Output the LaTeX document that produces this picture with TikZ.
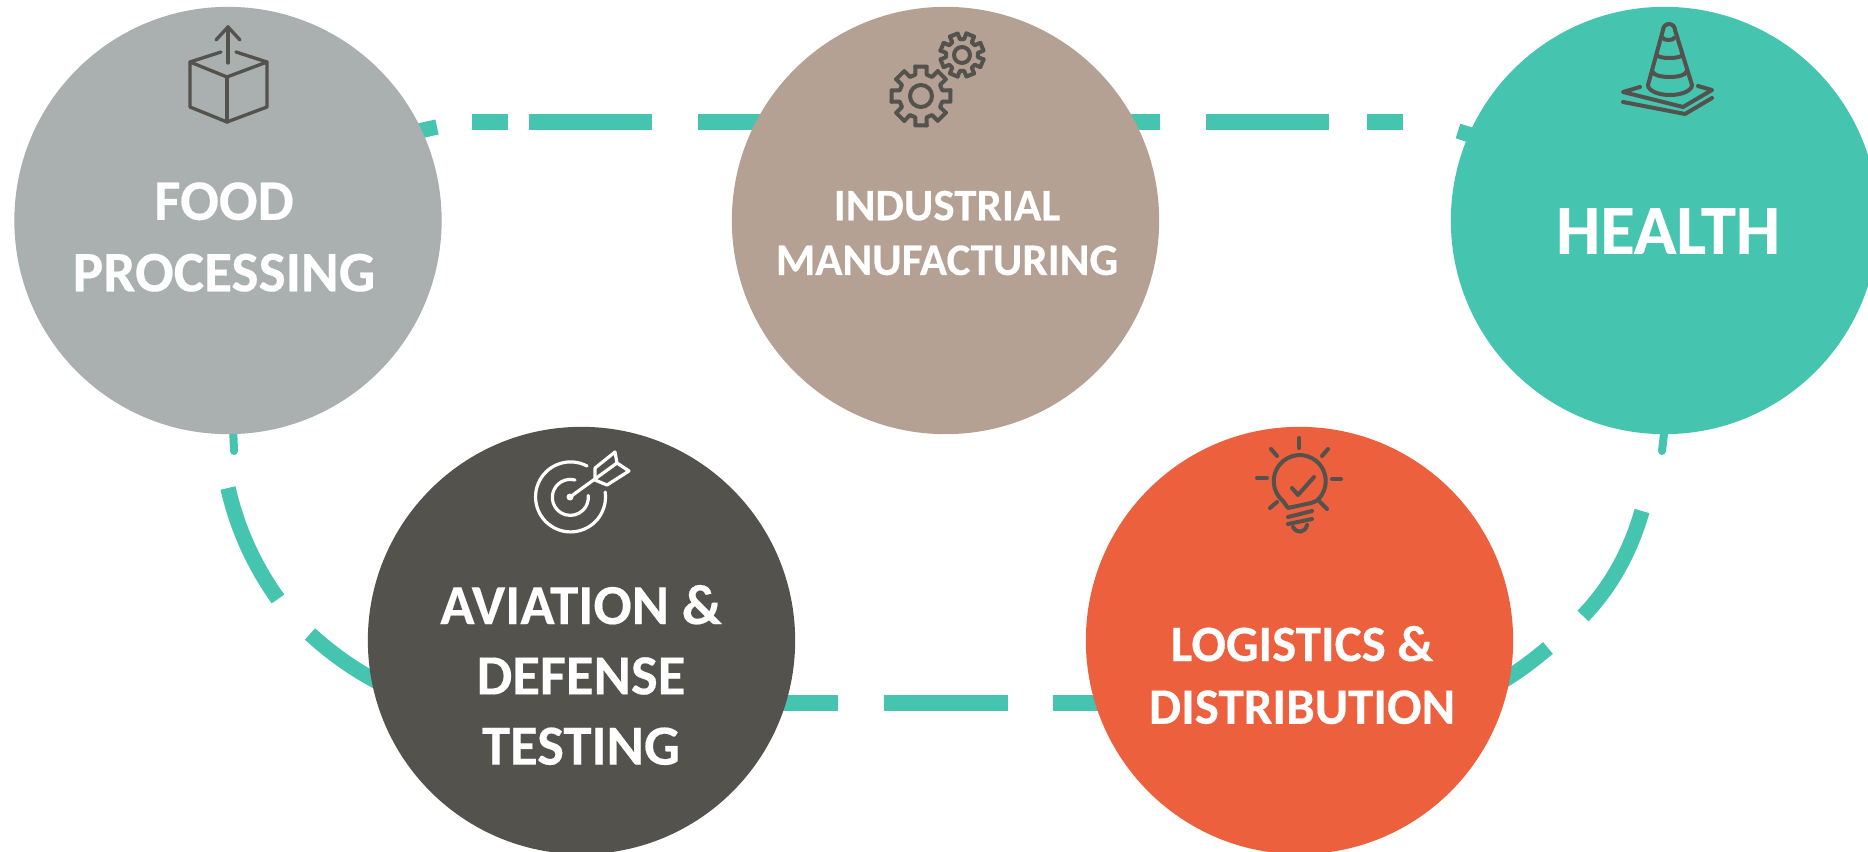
\documentclass[tikz,border=0pt]{standalone}
\usepackage{fontspec}
\setmainfont[BoldFeatures={FakeBold=0.3}]{Carlito}
\usetikzlibrary{calc}
\definecolor{mint}{HTML}{45C4AF}
\definecolor{foodgrey}{HTML}{A9B0AF}
\definecolor{taupe}{HTML}{B4A193}
\definecolor{charcoal}{HTML}{53524D}
\definecolor{coral}{HTML}{EC603D}
\tikzset{%
  hub/.style     = {circle, minimum size=320.5pt, inner sep=0pt, outer sep=0pt},%
  hubtext/.style = {text=white, align=center, inner sep=0pt},%
  dashline/.style = {draw=mint, line width=11.5pt},%
  thinline/.style = {draw=mint, line width=6pt, line cap=round},%
  iconline/.style = {draw=charcoal, line width=3pt, line cap=round, line join=round},%
  boxline/.style = {iconline, line width=2.5pt},%
  whiteline/.style = {iconline, draw=white, line width=2.4pt}%
}
\newcommand{\gearicon}[5]{% centre, outer radius, root radius, hole radius, turn
  \draw[iconline] #1 circle (#4);
  \foreach \j in {0,45,...,315} {
    \pgfmathsetmacro{\k}{\j+#5}
    \draw[iconline] ($#1+(\k-11:#2)$) -- ($#1+(\k+11:#2)$) -- ($#1+(\k+15:#3)$)
      arc[start angle=\k+15, end angle=\k+30, radius=#3] -- ($#1+(\k+34:#2)$);
  }
}
\begin{document}
\begin{tikzpicture}[x=0.75pt,y=-0.75pt]
  \useasboundingbox (0,0) rectangle (1868,852);
  % top run
  \coordinate (t1) at (410,133); \coordinate (t2) at (437,127);
  \coordinate (t3) at (472,122); \coordinate (t4) at (508,122);
  \coordinate (t5) at (529,122); \coordinate (t6) at (652,122);
  \coordinate (t7) at (698,122); \coordinate (t8) at (790,122);
  \coordinate (t9) at (1120,122); \coordinate (t10) at (1160,122);
  \coordinate (t11) at (1206,122); \coordinate (t12) at (1329,122);
  \coordinate (t13) at (1367,122); \coordinate (t14) at (1403,122);
  \coordinate (t15) at (1458,131); \coordinate (t16) at (1480,138);
  \draw[dashline] (t1) -- (t2);
  \draw[dashline] (t3) -- (t4);
  \draw[dashline] (t5) -- (t6);
  \draw[dashline] (t7) -- (t8);
  \draw[dashline] (t9) -- (t10);
  \draw[dashline] (t11) -- (t12);
  \draw[dashline] (t13) -- (t14);
  \draw[dashline] (t15) -- (t16);
  % bottom run
  \coordinate (b1) at (780,703); \coordinate (b2) at (838,703);
  \coordinate (b3) at (884,703); \coordinate (b4) at (1008,703);
  \coordinate (b5) at (1053,703); \coordinate (b6) at (1110,703);
  \draw[dashline] (b1) -- (b2);
  \draw[dashline] (b3) -- (b4);
  \draw[dashline] (b5) -- (b6);
  % left bend
  \coordinate (l1) at (233,425); \coordinate (l2) at (234,451);
  \coordinate (l3) at (228,488); \coordinate (l4) at (278,599);
  \coordinate (l5) at (310,634); \coordinate (l6) at (390,688);
  \draw[thinline] (l1) -- (l2);
  \draw[dashline] (l3) .. controls (238,532) and (256,568) .. (l4);
  \draw[dashline] (l5) .. controls (333,655) and (360,674) .. (l6);
  % right bend
  \coordinate (r1) at (1665,425); \coordinate (r2) at (1662,451);
  \coordinate (r3) at (1642,511); \coordinate (r4) at (1583,616);
  \coordinate (r5) at (1548,648); \coordinate (r6) at (1490,688);
  \draw[thinline] (r1) -- (r2);
  \draw[dashline] (r3) .. controls (1630,553) and (1610,588) .. (r4);
  \draw[dashline] (r5) .. controls (1530,663) and (1510,678) .. (r6);
  % hubs
  \node[hub, fill=foodgrey] (food) at (228,220.5) {};
  \node[hub, fill=taupe] (industrial) at (945.5,220.5) {};
  \node[hub, fill=mint] (health) at (1664.5,220.5) {};
  \node[hub, fill=charcoal] (aviation) at (581.5,640.5) {};
  \node[hub, fill=coral] (logistics) at (1299.5,640.5) {};
  % labels
  \node[hubtext, font=\bfseries\fontsize{43}{53.6}\selectfont] (foodlab) at (224,237) {FOOD\\PROCESSING};
  \node[hubtext, font=\bfseries\fontsize{33.8}{41}\selectfont] (industriallab) at (947,233) {INDUSTRIAL\\MANUFACTURING};
  \node[hubtext, font=\bfseries\fontsize{52.7}{60}\selectfont] (healthlab) at (1668,231) {HEALTH};
  \node[hubtext, font=\bfseries\fontsize{42.5}{52.7}\selectfont] (aviationlab) at (581,675) {AVIATION \&\\DEFENSE\\TESTING};
  \node[hubtext, font=\bfseries\fontsize{38.3}{47}\selectfont] (logisticslab) at (1302,675) {LOGISTICS \&\\DISTRIBUTION};
  % box icon
  \draw[boxline] (190,62) -- (227,77) -- (267,62) -- (267,107) -- (227,122) -- (190,107) -- cycle;
  \draw[boxline] (227,77) -- (227,122);
  \draw[boxline] (190,62) -- (221,52);
  \draw[boxline] (267,62) -- (236,52);
  \draw[boxline] (228,63) -- (228,27);
  \draw[boxline] (216,40) -- (228,27) -- (240,40);
  % gear icons
  \gearicon{(921,96)}{30}{22}{11}{0}
  \gearicon{(962,55)}{22}{16}{8}{22.5}
  % cone icon
  \draw[iconline] (1648,85) -- (1663,30) arc[start angle=180, end angle=360, radius=6] -- (1692,85)
    arc[start angle=0, end angle=180, x radius=22, y radius=10];
  \draw[iconline] (1663,38) arc[start angle=180, end angle=0, x radius=5.5, y radius=2];
  \draw[iconline] (1657,55) arc[start angle=180, end angle=0, x radius=12.5, y radius=3];
  \draw[iconline] (1653,72) arc[start angle=180, end angle=0, x radius=16.5, y radius=5];
  \draw[iconline] (1640,87) -- (1623,92) -- (1683,107) -- (1712,90) -- (1698,86);
  \draw[iconline] (1623,102) -- (1685,114) -- (1712,98);
  % target icon
  \draw[whiteline] (587,466) arc[start angle=-62, end angle=-368, radius=35];
  \draw[whiteline] (575,480) arc[start angle=-75, end angle=-366, radius=18];
  \fill[white] (570,497) circle (3.5);
  \draw[whiteline] (570,497) -- (617,463);
  \draw[whiteline] (595,468) -- (615,452) -- (617,463) -- (629,471) -- (607,485) -- (595,480) -- cycle;
  % bulb icon
  \draw[iconline] (1288,508) -- (1283,501) arc[start angle=130, end angle=410, radius=26] -- (1311,503) -- cycle;
  \draw[iconline] (1299,438) -- (1299,448);
  \draw[iconline] (1271,449) -- (1277,456);
  \draw[iconline] (1328,449) -- (1322,456);
  \draw[iconline] (1257,478) -- (1267,478);
  \draw[iconline] (1332,479) -- (1341,479);
  \draw[iconline] (1270,508) -- (1277,502);
  \draw[iconline] (1320,502) -- (1327,509);
  \draw[iconline] (1292,488) -- (1298,495) -- (1314,477);
  \draw[iconline] (1288,517) -- (1312,511);
  \draw[iconline] (1288,524) -- (1312,519);
  \draw[iconline] (1293,527) .. controls (1297,534) and (1305,533) .. (1307,525);
\end{tikzpicture}
\end{document}
